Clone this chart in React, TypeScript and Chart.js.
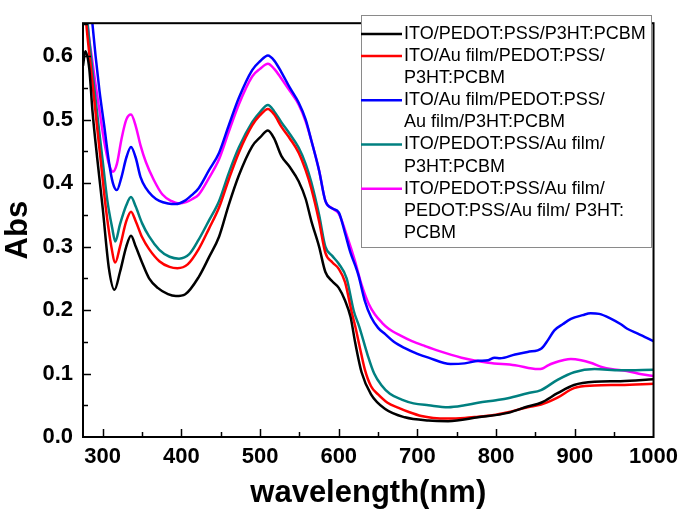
import { useEffect, useRef } from 'react';
import { Chart, registerables } from 'chart.js';

Chart.register(...registerables);

const FONT = 'Arial, "Liberation Sans", sans-serif';

const xTickValues = [300, 400, 500, 600, 700, 800, 900, 1000];
const yTickValues = [0.0, 0.1, 0.2, 0.3, 0.4, 0.5, 0.6];

const seriesNames = [
  'ITO/PEDOT:PSS/P3HT:PCBM',
  'ITO/Au film/PEDOT:PSS/P3HT:PCBM',
  'ITO/Au film/PEDOT:PSS/Au film/P3HT:PCBM',
  'ITO/PEDOT:PSS/Au film/P3HT:PCBM',
  'ITO/PEDOT:PSS/Au film/PEDOT:PSS/Au film/ P3HT:PCBM',
];
const legendLines = [
  ['ITO/PEDOT:PSS/P3HT:PCBM'],
  ['ITO/Au film/PEDOT:PSS/', 'P3HT:PCBM'],
  ['ITO/Au film/PEDOT:PSS/', 'Au film/P3HT:PCBM'],
  ['ITO/PEDOT:PSS/Au film/', 'P3HT:PCBM'],
  ['ITO/PEDOT:PSS/Au film/', 'PEDOT:PSS/Au film/ P3HT:', 'PCBM'],
];
const seriesColors = ['#000000', '#ff0000', '#0000ff', '#008080', '#ff00ff'];

const blackWl = [275, 278, 283, 287, 293, 300, 308, 315, 322, 330, 336, 342, 350, 359, 370, 383, 393, 405, 422, 435, 448, 460, 473, 490, 500, 510, 518, 527, 538, 549, 558, 565, 575, 583, 592, 600, 608, 615, 621, 629, 641, 659, 684, 714, 739, 777, 815, 840, 857, 878, 899, 925, 958, 1000];
const blackAbs = [0.585, 0.608, 0.58, 0.514, 0.44, 0.361, 0.265, 0.232, 0.26, 0.30, 0.317, 0.30, 0.275, 0.25, 0.235, 0.225, 0.222, 0.225, 0.252, 0.283, 0.316, 0.365, 0.412, 0.458, 0.472, 0.483, 0.47, 0.443, 0.425, 0.403, 0.375, 0.341, 0.30, 0.26, 0.245, 0.235, 0.215, 0.189, 0.148, 0.102, 0.067, 0.044, 0.031, 0.026, 0.025, 0.031, 0.038, 0.048, 0.054, 0.069, 0.082, 0.087, 0.088, 0.091];

const redWl = [275, 280, 286, 292, 298, 304, 311, 316, 322, 330, 336, 342, 350, 359, 372, 385, 395, 408, 422, 435, 448, 460, 473, 490, 500, 510, 518, 527, 538, 549, 558, 565, 575, 583, 592, 600, 608, 616, 621, 627, 633, 641, 650, 662, 676, 690, 705, 720, 739, 760, 777, 800, 815, 840, 857, 878, 899, 925, 958, 1000];
const redAbs = [0.71, 0.64, 0.57, 0.499, 0.43, 0.361, 0.30, 0.275, 0.30, 0.34, 0.355, 0.34, 0.315, 0.296, 0.277, 0.268, 0.266, 0.272, 0.296, 0.328, 0.362, 0.405, 0.448, 0.491, 0.507, 0.517, 0.508, 0.489, 0.47, 0.448, 0.42, 0.392, 0.34, 0.29, 0.275, 0.265, 0.244, 0.199, 0.174, 0.14, 0.107, 0.08, 0.067, 0.054, 0.046, 0.039, 0.033, 0.03, 0.029, 0.03, 0.032, 0.035, 0.039, 0.047, 0.051, 0.062, 0.077, 0.081, 0.082, 0.084];

const blueWl = [275, 283, 287, 291, 296, 302, 308, 313, 318, 324, 330, 336, 342, 348, 355, 363, 372, 383, 393, 404, 414, 422, 435, 448, 460, 473, 490, 500, 510, 518, 527, 538, 549, 558, 565, 575, 583, 592, 600, 608, 615, 621, 625, 633, 641, 650, 659, 670, 684, 700, 714, 742, 760, 777, 790, 798, 805, 824, 840, 858, 866, 874, 885, 895, 910, 920, 931, 945, 958, 966, 980, 1000];
const blueAbs = [0.80, 0.70, 0.651, 0.60, 0.545, 0.49, 0.433, 0.40, 0.389, 0.41, 0.44, 0.457, 0.44, 0.41, 0.392, 0.38, 0.372, 0.368, 0.367, 0.372, 0.382, 0.392, 0.42, 0.448, 0.49, 0.534, 0.578, 0.592, 0.601, 0.593, 0.575, 0.55, 0.527, 0.5, 0.468, 0.42, 0.372, 0.36, 0.354, 0.321, 0.29, 0.27, 0.255, 0.215, 0.189, 0.172, 0.162, 0.15, 0.14, 0.131, 0.125, 0.115, 0.116, 0.12, 0.121, 0.125, 0.124, 0.13, 0.134, 0.14, 0.153, 0.168, 0.178, 0.186, 0.192, 0.195, 0.194, 0.187, 0.178, 0.171, 0.163, 0.151];

const tealWl = [275, 282, 288, 294, 300, 306, 312, 316, 322, 330, 336, 342, 350, 359, 372, 385, 397, 410, 422, 435, 448, 460, 473, 490, 500, 510, 518, 527, 538, 549, 558, 565, 575, 583, 592, 600, 610, 619, 626, 637, 645, 654, 665, 680, 695, 714, 739, 760, 777, 800, 815, 840, 857, 878, 899, 925, 958, 1000];
const tealAbs = [0.72, 0.636, 0.565, 0.499, 0.435, 0.372, 0.33, 0.308, 0.335, 0.365, 0.378, 0.363, 0.337, 0.316, 0.295, 0.284, 0.281, 0.288, 0.311, 0.341, 0.372, 0.415, 0.456, 0.496, 0.512, 0.523, 0.513, 0.496, 0.477, 0.456, 0.43, 0.402, 0.35, 0.30, 0.285, 0.273, 0.25, 0.199, 0.174, 0.128, 0.1, 0.082, 0.068, 0.059, 0.053, 0.05, 0.047, 0.05, 0.054, 0.058, 0.061, 0.069, 0.074, 0.09, 0.102, 0.107, 0.105, 0.106];

const magentaWl = [275, 281, 286, 291, 296, 302, 308, 313, 318, 324, 330, 336, 342, 348, 355, 365, 376, 387, 397, 406, 414, 422, 435, 448, 460, 473, 490, 500, 510, 518, 527, 538, 549, 558, 565, 575, 583, 592, 600, 612, 620, 629, 638, 646, 655, 663, 678, 693, 710, 726, 756, 790, 824, 853, 859, 866, 874, 885, 895, 908, 920, 935, 946, 966, 985, 1000];
const magentaAbs = [0.78, 0.651, 0.60, 0.555, 0.514, 0.465, 0.43, 0.418, 0.43, 0.47, 0.50, 0.508, 0.49, 0.46, 0.433, 0.405, 0.382, 0.372, 0.368, 0.37, 0.375, 0.382, 0.408, 0.438, 0.48, 0.524, 0.568, 0.58, 0.588, 0.58, 0.565, 0.545, 0.524, 0.497, 0.468, 0.42, 0.372, 0.36, 0.352, 0.311, 0.28, 0.24, 0.21, 0.193, 0.18, 0.171, 0.16, 0.151, 0.143, 0.136, 0.125, 0.117, 0.113, 0.107, 0.108, 0.113, 0.117, 0.121, 0.123, 0.121, 0.117, 0.11, 0.107, 0.104, 0.099, 0.096];

const seriesWl = [blackWl, redWl, blueWl, tealWl, magentaWl];
const seriesAbs = [blackAbs, redAbs, blueAbs, tealAbs, magentaAbs];

const X_MIN = 275;
const X_MAX = 1000;
const Y_MIN = 0;
const Y_MAX = 0.652;

const framePlugin = {
  id: 'framePlugin',
  afterDraw(chart: any) {
    const { ctx, chartArea } = chart;
    const { left, right, top, bottom } = chartArea;
    const xs = chart.scales.x;
    const ys = chart.scales.y;
    ctx.save();
    ctx.strokeStyle = '#000';
    ctx.lineWidth = 2;
    ctx.strokeRect(left, top, right - left, bottom - top);
    ctx.lineWidth = 1.5;
    for (let v = 300; v < X_MAX; v += 50) {
      const px = Math.round(xs.getPixelForValue(v)) + 0.5;
      const len = v % 100 === 0 ? 8 : 5;
      ctx.beginPath();
      ctx.moveTo(px, bottom);
      ctx.lineTo(px, bottom - len);
      ctx.stroke();
    }
    for (let i = 1; i <= 13; i++) {
      const v = i * 0.05;
      const py = Math.round(ys.getPixelForValue(v)) + 0.5;
      const len = i % 2 === 0 ? 8 : 5;
      ctx.beginPath();
      ctx.moveTo(left, py);
      ctx.lineTo(left + len, py);
      ctx.stroke();
    }
    const bx = 361, by = 15, bw = 290, bh = 232;
    ctx.fillStyle = '#ffffff';
    ctx.fillRect(bx, by, bw, bh);
    ctx.strokeStyle = '#8a8a8a';
    ctx.lineWidth = 1;
    ctx.strokeRect(bx + 0.5, by + 0.5, bw, bh);
    ctx.font = `18px ${FONT}`;
    ctx.textBaseline = 'middle';
    ctx.textAlign = 'left';
    const lh = 22.1;
    let row = 0;
    legendLines.forEach((lines, i) => {
      const y0 = 34 + row * lh;
      ctx.strokeStyle = seriesColors[i];
      ctx.lineWidth = 2.5;
      ctx.beginPath();
      ctx.moveTo(bx, y0);
      ctx.lineTo(402, y0);
      ctx.stroke();
      ctx.fillStyle = '#000';
      lines.forEach((t, j) => {
        ctx.fillText(t, 404, 34 + (row + j) * lh);
      });
      row += lines.length;
    });
    ctx.restore();
  },
};

export default function App() {
  const ref = useRef<HTMLCanvasElement>(null);
  useEffect(() => {
    const canvas = ref.current;
    if (!canvas) return;
    const chart = new Chart(canvas, {
      type: 'line',
      data: {
        datasets: seriesNames.map((name, i) => ({
          label: name,
          data: seriesWl[i].map((x, k) => ({ x, y: seriesAbs[i][k] })),
          borderColor: seriesColors[i],
          backgroundColor: seriesColors[i],
          borderWidth: 2.5,
          pointRadius: 0,
          cubicInterpolationMode: 'monotone' as const,
          fill: false,
        })),
      },
      options: {
        animation: false,
        responsive: true,
        maintainAspectRatio: false,
        layout: { padding: { top: 9, right: 30, left: 0, bottom: 0 } },
        plugins: {
          legend: { display: false },
          tooltip: { enabled: false },
        },
        scales: {
          x: {
            type: 'linear',
            min: X_MIN,
            max: X_MAX,
            afterFit: (s: any) => { s.height = 79; },
            afterBuildTicks: (s: any) => { s.ticks = xTickValues.map((v) => ({ value: v })); },
            grid: { display: false, drawTicks: false },
            border: { display: false },
            ticks: {
              color: '#000',
              font: { family: FONT, size: 22, weight: 'bold' },
              padding: 7,
              maxRotation: 0,
              autoSkip: false,
              callback: (v: any) => String(v),
            },
            title: {
              display: true,
              text: 'wavelength(nm)',
              color: '#000',
              font: { family: FONT, size: 31, weight: 'bold' },
              padding: { top: 0, bottom: 4 },
            },
          },
          y: {
            type: 'linear',
            min: Y_MIN,
            max: Y_MAX,
            afterFit: (s: any) => { s.width = 83; },
            afterBuildTicks: (s: any) => { s.ticks = yTickValues.map((v) => ({ value: v })); },
            grid: { display: false, drawTicks: false },
            border: { display: false },
            ticks: {
              color: '#000',
              font: { family: FONT, size: 22, weight: 'bold' },
              padding: 10,
              autoSkip: false,
              callback: (v: any) => Number(v).toFixed(1),
            },
            title: {
              display: true,
              text: 'Abs',
              color: '#000',
              font: { family: FONT, size: 31, weight: 'bold' },
              padding: { top: 0, bottom: 0 },
            },
          },
        },
      },
      plugins: [framePlugin],
    });
    return () => chart.destroy();
  }, []);
  return (
    <div style={{ position: 'fixed', left: 0, top: 0, width: 685, height: 516, background: '#fff' }}>
      <canvas ref={ref} />
    </div>
  );
}
